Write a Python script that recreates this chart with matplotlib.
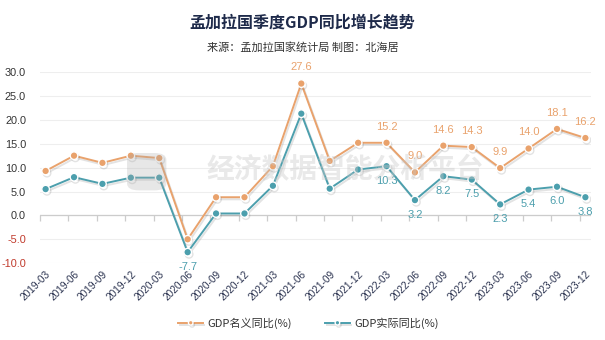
import matplotlib
matplotlib.use("Agg")
import matplotlib.pyplot as plt
import matplotlib.patheffects as pe
from matplotlib.patches import FancyBboxPatch

plt.rcParams['font.family'] = ['Noto Sans CJK SC', 'DejaVu Sans']

quarters = ['2019-03', '2019-06', '2019-09', '2019-12', '2020-03', '2020-06', '2020-09',
            '2020-12', '2021-03', '2021-06', '2021-09', '2021-12', '2022-03', '2022-06',
            '2022-09', '2022-12', '2023-03', '2023-06', '2023-09', '2023-12']
nominal = [9.3, 12.5, 11.0, 12.5, 12.0, -5.0, 3.8, 3.8, 10.3, 27.6,
           11.4, 15.2, 15.2, 9.0, 14.6, 14.3, 9.9, 14.0, 18.1, 16.2]
real = [5.5, 8.0, 6.6, 7.9, 7.9, -7.7, 0.4, 0.4, 6.2, 21.3,
        5.6, 9.6, 10.3, 3.2, 8.2, 7.5, 2.3, 5.4, 6.0, 3.8]
# only these points carry a value label
nominal_labeled = [9, 12, 13, 14, 15, 16, 17, 18, 19]
real_labeled = [5, 12, 13, 14, 15, 16, 17, 18, 19]

c_nom = '#E9A26C'
c_real = '#4C9FAD'
navy = '#2B3350'
num_font = 'Liberation Sans'

fig = plt.figure(figsize=(6.05, 3.4), dpi=100)
ax = fig.add_axes([0.066, 0.226, 0.911, 0.562])

x = list(range(len(quarters)))
shadow = [pe.SimpleLineShadow(offset=(1, -1.5), alpha=0.15, shadow_color='#444444'), pe.Normal()]

ax.plot(x, nominal, color=c_nom, lw=1.4, marker='o', ms=5.5, mfc=c_nom, mec='white',
        mew=1.0, path_effects=shadow, label='GDP名义同比(%)', zorder=4)
ax.plot(x, real, color=c_real, lw=1.4, marker='o', ms=5.5, mfc=c_real, mec='white',
        mew=1.0, path_effects=shadow, label='GDP实际同比(%)', zorder=4)

for i in nominal_labeled:
    ax.annotate(f'{nominal[i]:.1f}', (x[i], nominal[i]), xytext=(0, 8), textcoords='offset points',
                ha='center', va='bottom', fontsize=8, color=c_nom, family=num_font, zorder=5)
for i in real_labeled:
    ax.annotate(f'{real[i]:.1f}', (x[i], real[i]), xytext=(0, -7), textcoords='offset points',
                ha='center', va='top', fontsize=8, color=c_real, family=num_font,
                annotation_clip=False, zorder=5)

ax.set_xlim(-0.2, 19.2)
ax.set_ylim(-10, 30)
ax.set_yticks(range(-10, 31, 5))
ax.set_yticklabels([f'{v:.1f}' for v in range(-10, 31, 5)], fontsize=7.8, family=num_font)
for lbl, v in zip(ax.get_yticklabels(), range(-10, 31, 5)):
    lbl.set_color('#C0392B' if v < 0 else '#333333')
ax.tick_params(axis='y', length=0, pad=10)
ax.grid(axis='y', color='#EEEEEE', lw=0.8)
ax.axhline(0, color='#CCCCCC', lw=0.9, zorder=2)

ax.set_xticks(x)
ax.set_xticklabels(quarters, rotation=45, ha='right', rotation_mode='anchor',
                   fontsize=7.3, color=navy, family=num_font)
ax.tick_params(axis='x', length=0, pad=4)

# small tick marks hanging below the zero line
zero_axis = ax.secondary_xaxis(0.25)
zero_axis.set_xticks([i - 0.2 for i in x])
zero_axis.set_xticklabels([])
zero_axis.tick_params(length=4, color='#CCCCCC', width=0.9)
zero_axis.spines['bottom'].set_visible(False)

for s in ax.spines.values():
    s.set_visible(False)

# watermark
fig.text(0.57, 0.50, '经济数据智能分析平台', fontsize=20, fontweight='bold', color='#C8C8C8',
         alpha=0.4, ha='center', va='center', zorder=0)
fig.patches.append(FancyBboxPatch((0.215, 0.445), 0.055, 0.1, boxstyle='round,pad=0.005,rounding_size=0.02',
                                  transform=fig.transFigure, facecolor='#AAAAAA', alpha=0.28,
                                  edgecolor='none', zorder=0))

fig.text(0.5, 0.935, '孟加拉国季度GDP同比增长趋势', fontsize=11.5, fontweight='bold',
         color='#1E2A4A', ha='center', va='center')
fig.text(0.5, 0.862, '来源：孟加拉国家统计局 制图：北海居', fontsize=8, color='#333333',
         ha='center', va='center', style='italic')

fig.legend(loc='center', bbox_to_anchor=(0.51, 0.05), ncol=2, frameon=False, fontsize=8,
           handlelength=2.2, columnspacing=3, handletextpad=0.4, markerscale=0.6,
           labelcolor='#333333')

fig.savefig('out.png', dpi=100)
